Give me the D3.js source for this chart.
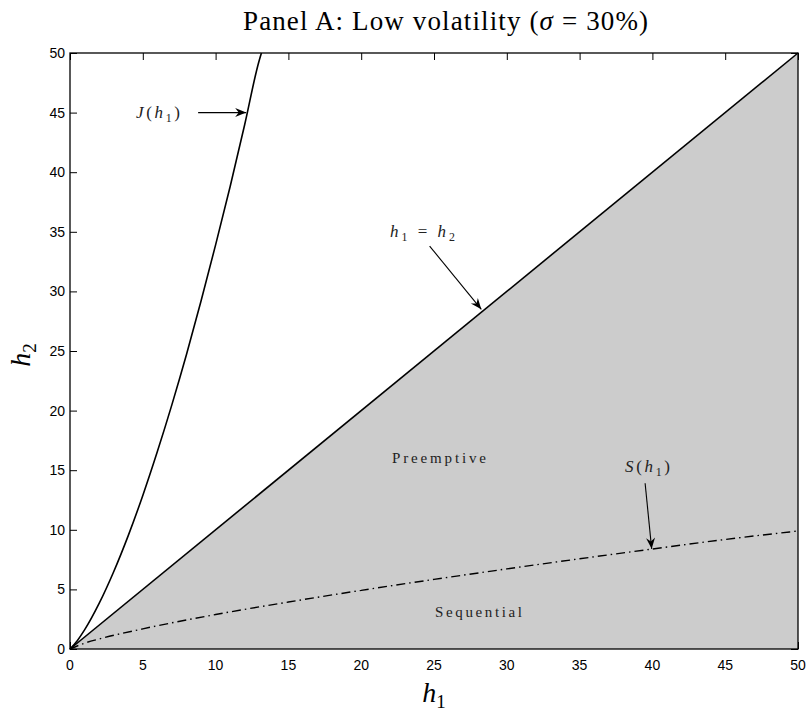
<!DOCTYPE html>
<html>
<head>
<meta charset="utf-8">
<script src="https://cdn.jsdelivr.net/npm/d3@7"></script>
<style>
  body { margin: 0; background: #fff; }
  .tick-label { font-family: "Liberation Sans", Arial, sans-serif; font-size: 14px; }
  .serif { font-family: "Liberation Serif", "DejaVu Serif", serif; }
</style>
</head>
<body>
<div id="chart"></div>
<script>
// tick values
const xTicks = [0, 5, 10, 15, 20, 25, 30, 35, 40, 45, 50];
const yTicks = [0, 5, 10, 15, 20, 25, 30, 35, 40, 45, 50];

// J(h1) boundary
const jH1 = [0, 0.5, 1, 2, 3, 4, 5, 6, 7, 8, 9, 10, 11, 12, 13, 13.15];
const jH2 = [0, 0.7, 1.6, 3.82, 6.48, 9.51, 12.88, 16.56, 20.5, 24.7, 29.2, 33.9, 38.8, 44.0, 49.4, 50];

// S(h1) boundary (dash-dot)
const sH1 = [0, 1, 2, 5, 10, 15, 20, 25, 30, 35, 40, 45, 50];
const sH2 = [0, 0.49, 0.84, 1.69, 2.89, 3.94, 4.92, 5.84, 6.72, 7.57, 8.39, 9.19, 9.9];

// diagonal h1 = h2
const diagH1 = [0, 50];
const diagH2 = [0, 50];

const W = 810, H = 717;
const svg = d3.select("#chart").append("svg")
    .attr("width", W)
    .attr("height", H);

const x = d3.scaleLinear().domain([0, 50]).range([70, 798]);
const y = d3.scaleLinear().domain([0, 50]).range([649, 53]);

// arrow head
svg.append("defs").append("marker")
    .attr("id", "head")
    .attr("viewBox", "-12 -6 14 12")
    .attr("refX", 0).attr("refY", 0)
    .attr("markerWidth", 14).attr("markerHeight", 12)
    .attr("markerUnits", "userSpaceOnUse")
    .attr("orient", "auto")
  .append("path")
    .attr("d", "M0,0 L-11,-4.5 L-7.5,0 L-11,4.5 Z")
    .attr("fill", "#000");

// ticks (inward, all four sides) -- the grey patch covers the bottom/right ones
const tickLen = 7;
svg.append("g")
    .attr("transform", `translate(0,${y(0)})`)
    .call(d3.axisBottom(x).tickValues(xTicks).tickSize(-tickLen).tickFormat(""))
    .call(g => g.select(".domain").remove());
svg.append("g")
    .attr("transform", `translate(0,${y(50)})`)
    .call(d3.axisTop(x).tickValues(xTicks).tickSize(-tickLen).tickFormat(""))
    .call(g => g.select(".domain").remove());
svg.append("g")
    .attr("transform", `translate(${x(0)},0)`)
    .call(d3.axisLeft(y).tickValues(yTicks).tickSize(-tickLen).tickFormat(""))
    .call(g => g.select(".domain").remove());
svg.append("g")
    .attr("transform", `translate(${x(50)},0)`)
    .call(d3.axisRight(y).tickValues(yTicks).tickSize(-tickLen).tickFormat(""))
    .call(g => g.select(".domain").remove());

// grey region under the diagonal
const areaPts = [[diagH1[0], diagH2[0]], [diagH1[1], diagH2[1]], [diagH1[1], 0]];
svg.append("path")
    .attr("d", d3.line().x(d => x(d[0])).y(d => y(d[1]))(areaPts) + "Z")
    .attr("fill", "#cccccc")
    .attr("stroke", "none");

// tick labels
svg.selectAll(".xlab")
  .data(xTicks)
  .join("text")
    .attr("class", "tick-label")
    .attr("x", d => x(d))
    .attr("y", y(0) + 21)
    .attr("text-anchor", "middle")
    .text(d => d);
svg.selectAll(".ylab")
  .data(yTicks)
  .join("text")
    .attr("class", "tick-label")
    .attr("x", x(0) - 5)
    .attr("y", d => y(d) + 5)
    .attr("text-anchor", "end")
    .text(d => d);

const line = d3.line().x(d => x(d[0])).y(d => y(d[1]));

// diagonal
svg.append("path")
    .attr("d", line(diagH1.map((v, i) => [v, diagH2[i]])))
    .attr("fill", "none").attr("stroke", "#000").attr("stroke-width", 1.6);

// J(h1)
svg.append("path")
    .attr("d", d3.line().curve(d3.curveMonotoneX).x(d => x(d[0])).y(d => y(d[1]))(jH1.map((v, i) => [v, jH2[i]])))
    .attr("fill", "none").attr("stroke", "#000").attr("stroke-width", 1.6);

// S(h1)
svg.append("path")
    .attr("d", d3.line().curve(d3.curveMonotoneX).x(d => x(d[0])).y(d => y(d[1]))(sH1.map((v, i) => [v, sH2[i]])))
    .attr("fill", "none").attr("stroke", "#000").attr("stroke-width", 1.4)
    .attr("stroke-dasharray", "9,4,1.5,4");

// box
svg.append("rect")
    .attr("x", x(0)).attr("y", y(50))
    .attr("width", x(50) - x(0)).attr("height", y(0) - y(50))
    .attr("fill", "none").attr("stroke", "#000").attr("stroke-width", 1.3);

// annotation arrows (from, to) in data units
const arrows = [
  { from: [8.8, 45.0], to: [12.1, 45.0] },
  { from: [24.7, 33.8], to: [28.25, 28.5] },
  { from: [39.5, 13.9], to: [39.95, 8.4] }
];
svg.selectAll(".arrow")
  .data(arrows)
  .join("line")
    .attr("x1", d => x(d.from[0])).attr("y1", d => y(d.from[1]))
    .attr("x2", d => x(d.to[0])).attr("y2", d => y(d.to[1]))
    .attr("stroke", "#000").attr("stroke-width", 1.1)
    .attr("marker-end", "url(#head)");

// math labels
function mathLabel(px, py, parts, size, width) {
  const t = svg.append("text")
      .attr("class", "serif")
      .attr("x", px).attr("y", py)
      .attr("font-size", size)
      .attr("fill", "#222");
  parts.forEach(p => {
    const s = t.append("tspan").text(p.t);
    if (p.i) s.attr("font-style", "italic");
    if (p.sub) s.attr("font-size", size * 0.7).attr("dy", size * 0.25);
    if (p.up) s.attr("dy", -size * 0.25);
  });
  if (width) t.attr("textLength", width).attr("lengthAdjust", "spacing");
  return t;
}
mathLabel(136, 118, [{ t: "J", i: 1 }, { t: "(" }, { t: "h", i: 1 }, { t: "1", sub: 1 }, { t: ")", up: 1 }], 17, 44);
mathLabel(390, 237, [{ t: "h", i: 1 }, { t: "1", sub: 1 }, { t: " = ", up: 1 }, { t: "h", i: 1 }, { t: "2", sub: 1 }], 17, 65);
mathLabel(625, 472, [{ t: "S", i: 1 }, { t: "(" }, { t: "h", i: 1 }, { t: "1", sub: 1 }, { t: ")", up: 1 }], 17, 45);

// region labels
svg.append("text").attr("class", "serif")
    .attr("x", 392).attr("y", 463)
    .attr("font-size", 15)
    .attr("textLength", 94).attr("lengthAdjust", "spacing")
    .attr("fill", "#222")
    .text("Preemptive");
svg.append("text").attr("class", "serif")
    .attr("x", 435).attr("y", 617)
    .attr("font-size", 15)
    .attr("textLength", 87).attr("lengthAdjust", "spacing")
    .attr("fill", "#222")
    .text("Sequential");

// title
const title = svg.append("text").attr("class", "serif")
    .attr("x", 243).attr("y", 30)
    .attr("font-size", 27)
    .attr("textLength", 405).attr("lengthAdjust", "spacing");
title.append("tspan").text("Panel A: Low volatility (");
title.append("tspan").attr("font-style", "italic").text("σ");
title.append("tspan").text(" = 30%)");

// axis titles
const xt = svg.append("text").attr("class", "serif")
    .attr("x", 434).attr("y", 702)
    .attr("text-anchor", "middle")
    .attr("font-size", 28);
xt.append("tspan").attr("font-style", "italic").text("h");
xt.append("tspan").attr("font-size", 19).attr("dy", 6).text("1");

const yt = svg.append("text").attr("class", "serif")
    .attr("transform", `translate(30,${(y(0) + y(50)) / 2 + 4}) rotate(-90)`)
    .attr("text-anchor", "middle")
    .attr("font-size", 28);
yt.append("tspan").attr("font-style", "italic").text("h");
yt.append("tspan").attr("font-size", 19).attr("dy", 6).text("2");
</script>
</body>
</html>
